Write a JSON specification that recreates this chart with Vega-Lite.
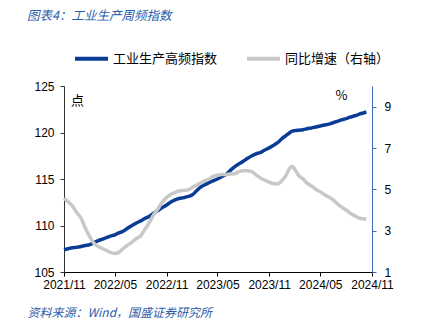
{
  "$schema": "https://vega.github.io/schema/vega-lite/v6.json",
  "width": 308,
  "height": 186,
  "autosize": {"type": "none"},
  "padding": {"left": 64, "top": 86, "right": 61, "bottom": 55},
  "title": {
    "text": "图表4：工业生产周频指数",
    "anchor": "start",
    "frame": "group",
    "dx": -37,
    "offset": 18,
    "fontSize": 12.5,
    "fontStyle": "italic",
    "fontWeight": "normal",
    "font": "Noto Sans CJK SC",
    "color": "#2A5CAA"
  },
  "config": {
    "view": {"stroke": null},
    "axis": {"grid": false, "labelFont": "Liberation Sans", "labelFontSize": 12, "labelColor": "#000", "tickSize": 4}
  },
  "data": {
    "values": [
      {"date": "2021-11-01", "idx": 107.4, "yoy": 4.57},
      {"date": "2021-11-15", "idx": 107.5, "yoy": 4.4},
      {"date": "2021-12-01", "idx": 107.6, "yoy": 4.2},
      {"date": "2021-12-15", "idx": 107.65, "yoy": 3.9},
      {"date": "2022-01-01", "idx": 107.75, "yoy": 3.6},
      {"date": "2022-01-15", "idx": 107.85, "yoy": 3.15},
      {"date": "2022-02-01", "idx": 107.95, "yoy": 2.7},
      {"date": "2022-02-15", "idx": 108.15, "yoy": 2.4},
      {"date": "2022-03-01", "idx": 108.35, "yoy": 2.25},
      {"date": "2022-03-15", "idx": 108.5, "yoy": 2.15},
      {"date": "2022-04-01", "idx": 108.7, "yoy": 2.05},
      {"date": "2022-04-15", "idx": 108.85, "yoy": 1.95},
      {"date": "2022-05-01", "idx": 109.0, "yoy": 1.9},
      {"date": "2022-05-15", "idx": 109.2, "yoy": 1.95},
      {"date": "2022-06-01", "idx": 109.4, "yoy": 2.15},
      {"date": "2022-06-15", "idx": 109.7, "yoy": 2.3},
      {"date": "2022-07-01", "idx": 110.0, "yoy": 2.45},
      {"date": "2022-07-15", "idx": 110.25, "yoy": 2.6},
      {"date": "2022-08-01", "idx": 110.5, "yoy": 2.75},
      {"date": "2022-08-15", "idx": 110.75, "yoy": 3.05},
      {"date": "2022-09-01", "idx": 111.0, "yoy": 3.4},
      {"date": "2022-09-15", "idx": 111.3, "yoy": 3.75},
      {"date": "2022-10-01", "idx": 111.6, "yoy": 4.05},
      {"date": "2022-10-15", "idx": 111.9, "yoy": 4.35},
      {"date": "2022-11-01", "idx": 112.2, "yoy": 4.6},
      {"date": "2022-11-15", "idx": 112.5, "yoy": 4.75},
      {"date": "2022-12-01", "idx": 112.75, "yoy": 4.85},
      {"date": "2022-12-15", "idx": 112.9, "yoy": 4.92},
      {"date": "2023-01-01", "idx": 113.0, "yoy": 4.95},
      {"date": "2023-01-15", "idx": 113.1, "yoy": 4.97},
      {"date": "2023-02-01", "idx": 113.3, "yoy": 5.1},
      {"date": "2023-02-15", "idx": 113.7, "yoy": 5.2},
      {"date": "2023-03-01", "idx": 114.1, "yoy": 5.3},
      {"date": "2023-03-15", "idx": 114.35, "yoy": 5.4},
      {"date": "2023-04-01", "idx": 114.6, "yoy": 5.5},
      {"date": "2023-04-15", "idx": 114.8, "yoy": 5.62},
      {"date": "2023-05-01", "idx": 115.0, "yoy": 5.68},
      {"date": "2023-05-15", "idx": 115.25, "yoy": 5.72},
      {"date": "2023-06-01", "idx": 115.5, "yoy": 5.72},
      {"date": "2023-06-15", "idx": 115.9, "yoy": 5.74},
      {"date": "2023-07-01", "idx": 116.3, "yoy": 5.75},
      {"date": "2023-07-15", "idx": 116.6, "yoy": 5.85},
      {"date": "2023-08-01", "idx": 116.9, "yoy": 5.9},
      {"date": "2023-08-15", "idx": 117.2, "yoy": 5.9},
      {"date": "2023-09-01", "idx": 117.5, "yoy": 5.85},
      {"date": "2023-09-15", "idx": 117.7, "yoy": 5.7},
      {"date": "2023-10-01", "idx": 117.85, "yoy": 5.55},
      {"date": "2023-10-15", "idx": 118.1, "yoy": 5.45},
      {"date": "2023-11-01", "idx": 118.35, "yoy": 5.35},
      {"date": "2023-11-15", "idx": 118.6, "yoy": 5.28},
      {"date": "2023-12-01", "idx": 118.9, "yoy": 5.26},
      {"date": "2023-12-15", "idx": 119.3, "yoy": 5.4},
      {"date": "2024-01-01", "idx": 119.7, "yoy": 5.7},
      {"date": "2024-01-12", "idx": 119.95, "yoy": 6.0},
      {"date": "2024-01-22", "idx": 120.15, "yoy": 6.12},
      {"date": "2024-02-01", "idx": 120.2, "yoy": 5.95},
      {"date": "2024-02-15", "idx": 120.25, "yoy": 5.65},
      {"date": "2024-03-01", "idx": 120.3, "yoy": 5.5},
      {"date": "2024-03-15", "idx": 120.4, "yoy": 5.3},
      {"date": "2024-04-01", "idx": 120.5, "yoy": 5.15},
      {"date": "2024-04-15", "idx": 120.6, "yoy": 5.0},
      {"date": "2024-05-01", "idx": 120.7, "yoy": 4.88},
      {"date": "2024-05-15", "idx": 120.8, "yoy": 4.75},
      {"date": "2024-06-01", "idx": 120.9, "yoy": 4.62},
      {"date": "2024-06-15", "idx": 121.05, "yoy": 4.5},
      {"date": "2024-07-01", "idx": 121.2, "yoy": 4.3},
      {"date": "2024-07-15", "idx": 121.35, "yoy": 4.15},
      {"date": "2024-08-01", "idx": 121.5, "yoy": 4.0},
      {"date": "2024-08-15", "idx": 121.65, "yoy": 3.85},
      {"date": "2024-09-01", "idx": 121.8, "yoy": 3.72},
      {"date": "2024-09-15", "idx": 121.95, "yoy": 3.62},
      {"date": "2024-10-01", "idx": 122.1, "yoy": 3.58},
      {"date": "2024-10-12", "idx": 122.2, "yoy": 3.55}
    ]
  },
  "encoding": {
    "x": {
      "field": "date",
      "type": "temporal",
      "scale": {"domain": ["2021-11-01", "2024-11-01"]},
      "axis": {
        "values": ["2021-11-01", "2022-05-01", "2022-11-01", "2023-05-01", "2023-11-01", "2024-05-01", "2024-11-01"],
        "format": "%Y/%m",
        "labelAngle": 0,
        "labelPadding": 3,
        "labelOverlap": false,
        "labelFlush": false,
        "domainColor": "#000",
        "tickColor": "#000",
        "title": "资料来源：Wind，国盛证券研究所",
        "titleFont": "Noto Sans CJK SC",
        "titleFontSize": 12,
        "titleFontStyle": "italic",
        "titleFontWeight": "normal",
        "titleColor": "#2A5CAA",
        "titleAnchor": "start",
        "titleAlign": "left",
        "titleX": -37,
        "titleY": 40,
        "titleBaseline": "middle"
      }
    }
  },
  "layer": [
    {
      "mark": {"type": "line", "strokeWidth": 3.5, "interpolate": "monotone"},
      "encoding": {
        "y": {
          "field": "idx",
          "type": "quantitative",
          "scale": {"domain": [105, 125], "nice": false, "zero": false},
          "axis": {
            "orient": "left",
            "values": [105, 110, 115, 120, 125],
            "domainColor": "#333",
            "tickColor": "#333",
            "labelPadding": 6,
            "title": "点",
            "titleAngle": 0,
            "titleX": 13,
            "titleY": 14,
            "titleAlign": "center",
            "titleBaseline": "middle",
            "titleFontSize": 13,
            "titleFontWeight": "normal",
            "titleFont": "Noto Sans CJK SC",
            "titleColor": "#000"
          }
        },
        "color": {
          "datum": "工业生产高频指数",
          "scale": {"domain": ["工业生产高频指数", "同比增速（右轴）"], "range": ["#0A3C96", "#C8C8C8"]},
          "legend": {
            "title": null,
            "orient": "none",
            "direction": "horizontal",
            "legendX": 9,
            "legendY": -46,
            "symbolType": "stroke",
            "symbolSize": 1089,
            "symbolStrokeWidth": 4,
            "labelFont": "Noto Sans CJK SC",
            "labelFontSize": 13,
            "labelColor": "#000",
            "labelOffset": 3,
            "columnPadding": 21
          }
        }
      }
    },
    {
      "mark": {"type": "line", "strokeWidth": 3.5, "interpolate": "monotone"},
      "encoding": {
        "y": {
          "field": "yoy",
          "type": "quantitative",
          "scale": {"domain": [1, 10], "nice": false, "zero": false},
          "axis": {
            "orient": "right",
            "values": [1, 3, 5, 7, 9],
            "domainColor": "#3C6BB5",
            "tickColor": "#3C6BB5",
            "labelPadding": 8,
            "title": "%",
            "titleAngle": 0,
            "titleX": -31,
            "titleY": 9,
            "titleAlign": "center",
            "titleBaseline": "middle",
            "titleFontSize": 13,
            "titleFontWeight": "normal",
            "titleFont": "Noto Sans CJK SC",
            "titleColor": "#000"
          }
        },
        "color": {"datum": "同比增速（右轴）"}
      }
    }
  ],
  "resolve": {"scale": {"y": "independent"}}
}
